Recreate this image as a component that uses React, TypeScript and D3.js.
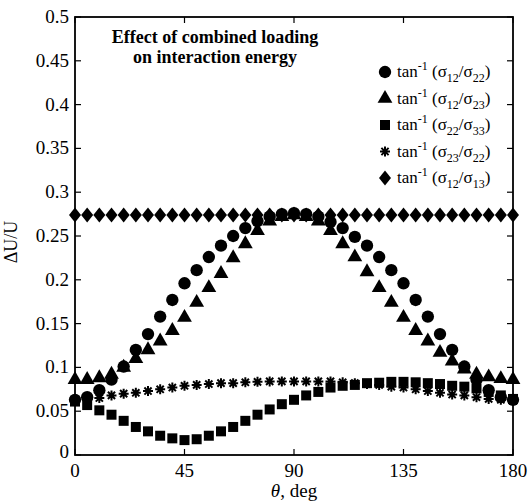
import React from "react";
import * as d3 from "d3";

const theta = [0, 5, 10, 15, 20, 25, 30, 35, 40, 45, 50, 55, 60, 65, 70, 75, 80, 85, 90,
  95, 100, 105, 110, 115, 120, 125, 130, 135, 140, 145, 150, 155, 160, 165, 170, 175, 180];

// tan^-1(s12/s22)
const circleVals = [0.063, 0.066, 0.074, 0.086, 0.101, 0.12, 0.138, 0.158, 0.177, 0.196, 0.211,
  0.226, 0.239, 0.25, 0.259, 0.267, 0.272, 0.275, 0.276, 0.275, 0.272, 0.266, 0.259, 0.249,
  0.239, 0.226, 0.211, 0.196, 0.177, 0.158, 0.138, 0.12, 0.101, 0.086, 0.074, 0.066, 0.063];
// tan^-1(s12/s23)
const triangleVals = [0.086, 0.086, 0.088, 0.092, 0.1, 0.11, 0.12, 0.13, 0.142, 0.157, 0.174,
  0.191, 0.207, 0.225, 0.241, 0.256, 0.267, 0.272, 0.274, 0.272, 0.267, 0.256, 0.241, 0.226,
  0.209, 0.191, 0.174, 0.157, 0.142, 0.13, 0.117, 0.107, 0.098, 0.092, 0.089, 0.087, 0.086];
// tan^-1(s22/s33)
const squareVals = [0.061, 0.057, 0.051, 0.046, 0.039, 0.032, 0.027, 0.022, 0.019, 0.017, 0.018,
  0.022, 0.027, 0.032, 0.039, 0.046, 0.052, 0.058, 0.063, 0.068, 0.072, 0.077, 0.079, 0.08,
  0.082, 0.0825, 0.0835, 0.0835, 0.083, 0.082, 0.081, 0.079, 0.078, 0.076, 0.072, 0.068, 0.064];
// tan^-1(s23/s22)
const starVals = [0.063, 0.064, 0.065, 0.068, 0.07, 0.071, 0.073, 0.075, 0.077, 0.079, 0.08,
  0.081, 0.082, 0.082, 0.083, 0.0835, 0.084, 0.084, 0.084, 0.084, 0.084, 0.084, 0.083, 0.082,
  0.081, 0.08, 0.078, 0.077, 0.075, 0.073, 0.071, 0.069, 0.068, 0.066, 0.064, 0.063, 0.062];
// tan^-1(s12/s13)
const diamondVals = [0.274, 0.274, 0.274, 0.274, 0.274, 0.274, 0.274, 0.274, 0.274, 0.274, 0.274,
  0.274, 0.274, 0.274, 0.274, 0.274, 0.274, 0.274, 0.274, 0.274, 0.274, 0.274, 0.274, 0.274,
  0.274, 0.274, 0.274, 0.274, 0.274, 0.274, 0.274, 0.274, 0.274, 0.274, 0.274, 0.274, 0.274];

const legendSubs = [["12", "22"], ["12", "23"], ["22", "33"], ["23", "22"], ["12", "13"]];
const xTicks = [0, 45, 90, 135, 180];
const yTicks = [0, 0.05, 0.1, 0.15, 0.2, 0.25, 0.3, 0.35, 0.4, 0.45, 0.5];

const FONT = "'Liberation Serif', 'Times New Roman', serif";

const x = d3.scaleLinear().domain([0, 180]).range([75, 513]);
const y = d3.scaleLinear().domain([0, 0.5]).range([455, 17]);

const circlePath = d3.symbol().type(d3.symbolCircle).size(120)()!;
const trianglePath = d3.symbol().type(d3.symbolTriangle).size(95)()!;
const squarePath = d3.symbol().type(d3.symbolSquare).size(100)()!;
const diamondPath = "M0,-7.5L6,0L0,7.5L-6,0Z";
const starPath = "M-5,0L5,0M0,-5L0,5M-3.6,-3.6L3.6,3.6M-3.6,3.6L3.6,-3.6";

const series = [
  { vals: diamondVals, d: diamondPath, star: false },
  { vals: starVals, d: starPath, star: true },
  { vals: squareVals, d: squarePath, star: false },
  { vals: circleVals, d: circlePath, star: false },
  { vals: triangleVals, d: trianglePath, star: false },
];
const legendMarks = [circlePath, trianglePath, squarePath, starPath, diamondPath];

function Marker({ d, star, tx, ty }: { d: string; star: boolean; tx: number; ty: number }) {
  return star ? (
    <path d={d} transform={`translate(${tx},${ty})`} fill="none" stroke="#000" strokeWidth={2} />
  ) : (
    <path d={d} transform={`translate(${tx},${ty})`} fill="#000" />
  );
}

export default function App() {
  const tl = 6;
  return (
    <svg width={530} height={502} style={{ position: "absolute", left: 0, top: 0 }} fontFamily={FONT}>
      <rect width={530} height={502} fill="#fff" />
      {/* ticks */}
      {xTicks.map((t) => (
        <g key={"x" + t}>
          <line x1={x(t)} x2={x(t)} y1={455} y2={455 - tl} stroke="#000" strokeWidth={1.2} />
          <line x1={x(t)} x2={x(t)} y1={17} y2={17 + tl} stroke="#000" strokeWidth={1.2} />
          <text x={x(t)} y={477} textAnchor="middle" fontSize={19}>{t}</text>
        </g>
      ))}
      {yTicks.map((t) => (
        <g key={"y" + t}>
          <line x1={75} x2={75 + tl} y1={y(t)} y2={y(t)} stroke="#000" strokeWidth={1.2} />
          <line x1={513} x2={513 - tl} y1={y(t)} y2={y(t)} stroke="#000" strokeWidth={1.2} />
          <text x={69} y={y(t) + (t === 0 ? 3 : 6)} textAnchor="end" fontSize={19}>{String(t)}</text>
        </g>
      ))}
      {/* data */}
      {series.map((s, i) => (
        <g key={i}>
          {s.vals.map((v, j) => (
            <Marker key={j} d={s.d} star={s.star} tx={x(theta[j])} ty={y(v)} />
          ))}
        </g>
      ))}
      <rect x={75} y={17} width={438} height={438} fill="none" stroke="#000" strokeWidth={1.8} />
      {/* title */}
      <text x={215} y={43} textAnchor="middle" fontSize={18} fontWeight="bold">Effect of combined loading</text>
      <text x={215} y={63} textAnchor="middle" fontSize={18} fontWeight="bold">on interaction energy</text>
      {/* legend */}
      {legendSubs.map((sub, i) => {
        const cy = 72 + i * 26.5;
        return (
          <g key={"l" + i}>
            <Marker d={legendMarks[i]} star={i === 3} tx={385} ty={cy} />
            <text x={397} y={cy + 5} fontSize={17}>
              tan<tspan fontSize={12} dy={-7}>-1</tspan>
              <tspan dy={7}> (σ</tspan>
              <tspan fontSize={12} dy={5}>{sub[0]}</tspan>
              <tspan dy={-5}>/σ</tspan>
              <tspan fontSize={12} dy={5}>{sub[1]}</tspan>
              <tspan dy={-5}>)</tspan>
            </text>
          </g>
        );
      })}
      {/* axis labels */}
      <text x={294} y={497} textAnchor="middle" fontSize={19}>
        <tspan fontStyle="italic">θ</tspan>, deg
      </text>
      <text transform="translate(17,242) rotate(-90)" textAnchor="middle" fontSize={18}>ΔU/U</text>
    </svg>
  );
}
